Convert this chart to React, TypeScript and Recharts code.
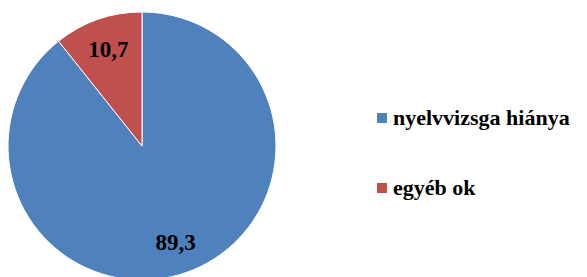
import React from "react";
import { PieChart, Pie, Cell, Legend } from "recharts";

const categories = ["nyelvvizsga hiánya", "egyéb ok"];
const values = [89.3, 10.7];
const labels = ["89,3", "10,7"];
const colors = ["#4F81BD", "#C0504D"];

const data = categories.map((name, i) => ({ name, value: values[i], label: labels[i] }));

const RADIAN = Math.PI / 180;
const FONT = '"Liberation Serif", "Times New Roman", Tinos, serif';

const css = `
.pie-chart text, .pie-legend, .pie-legend span {
  font-family: "Liberation Serif", "Times New Roman", Tinos, serif !important;
  font-weight: 700 !important;
}
`;

function renderLabel(props: any) {
  const { cx, cy, midAngle, outerRadius, index } = props;
  const r = outerRadius * 0.76;
  const x = cx + r * Math.cos(-midAngle * RADIAN);
  const y = cy + r * Math.sin(-midAngle * RADIAN);
  return (
    <text
      x={x}
      y={y}
      textAnchor="middle"
      dominantBaseline="central"
      style={{ fontFamily: FONT, fontWeight: 700, fontSize: 23 }}
      fill="#000"
    >
      {data[index].label}
    </text>
  );
}

function LegendContent(props: any) {
  const items = [...(props.payload || [])].sort(
    (a: any, b: any) => categories.indexOf(a.value) - categories.indexOf(b.value)
  );
  return (
    <div className="pie-legend" style={{ fontFamily: FONT, fontWeight: 700, fontSize: 22, color: "#000" }}>
      {items.map((entry: any, i: number) => (
        <div
          key={i}
          style={{ display: "flex", alignItems: "center", height: 24, marginBottom: i === 0 ? 46 : 0 }}
        >
          <span
            style={{ display: "inline-block", width: 10, height: 10, background: entry.color, marginRight: 6 }}
          />
          <span style={{ whiteSpace: "nowrap" }}>{entry.value}</span>
        </div>
      ))}
    </div>
  );
}

export default function App() {
  return (
    <div
      className="pie-chart"
      style={{ position: "absolute", left: 0, top: 0, width: 587, height: 277, background: "#fff", fontFamily: FONT }}
    >
      <style>{css}</style>
      <PieChart width={587} height={277} margin={{ top: 0, right: 0, bottom: 0, left: 0 }}>
        <Pie
          data={data}
          dataKey="value"
          nameKey="name"
          cx={142}
          cy={146}
          outerRadius={134}
          startAngle={90}
          endAngle={-270}
          stroke="#fff"
          strokeWidth={1}
          label={renderLabel}
          labelLine={false}
          isAnimationActive={false}
        >
          {data.map((d, i) => (
            <Cell key={d.name} fill={colors[i]} />
          ))}
        </Pie>
        <Legend
          layout="vertical"
          content={<LegendContent />}
          wrapperStyle={{ left: 377, top: 106, width: 210 }}
        />
      </PieChart>
    </div>
  );
}
